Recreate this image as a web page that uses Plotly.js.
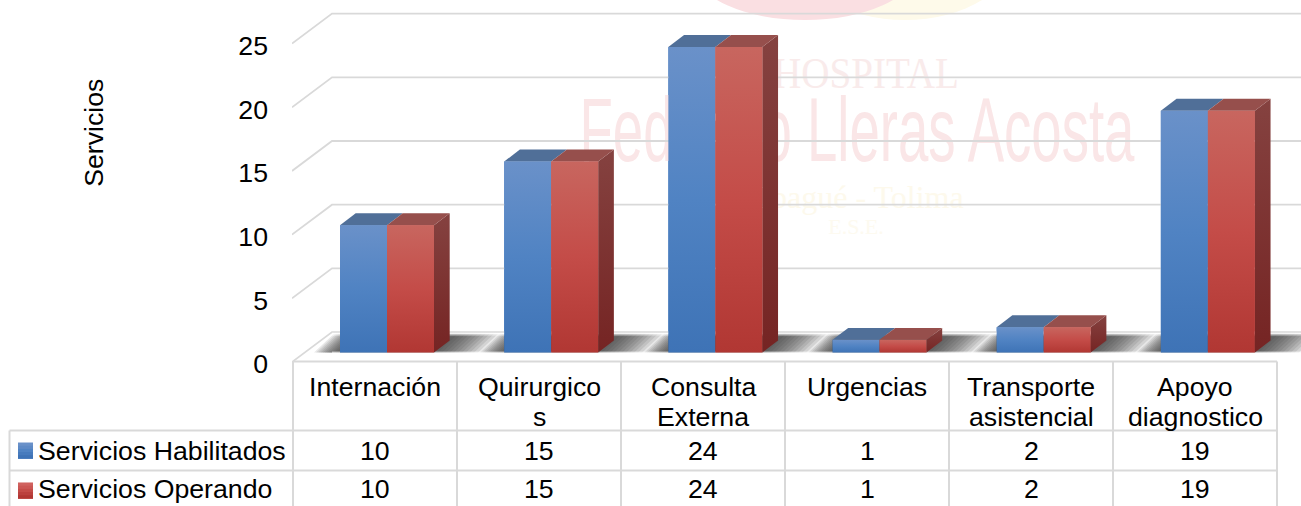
<!DOCTYPE html>
<html><head><meta charset="utf-8">
<script src="https://cdn.plot.ly/plotly-3.0.1.min.js"></script>
<style>html,body{margin:0;padding:0;background:#fff;overflow:hidden}</style>
</head><body><div id="chart" style="width:1301px;height:506px"></div>
<script>
const categories = ['Internación','Quirurgico<br>s','Consulta<br>Externa','Urgencias','Transporte<br>asistencial','Apoyo<br>diagnostico'];
const serviciosHabilitados = [10,15,24,1,2,19];
const serviciosOperando = [10,15,24,1,2,19];
const seriesNames = ['Servicios Habilitados','Servicios Operando'];
const yTicks = [0,5,10,15,20,25];
const yTitle = 'Servicios';

const FONT='"Liberation Sans", Arial, sans-serif', SERIF='"Liberation Serif", serif', NARROW='"Liberation Sans Narrow","Liberation Sans",sans-serif', FS=26.7;
const W=1301,H=506,L=292,ZERO=362.4,PXU=12.75,STEP=164.17,C0=387;
const xd=p=>(p-C0)/STEP, yd=p=>(ZERO-p)/PXU, xp=p=>(p-L)/(W-L), yp=p=>(ZERO-p)/ZERO;
const barW=47/STEP, depX=15.7/STEP, depY=12/PXU, lift=yd(353);
const backX=40/STEP, backY=30/PXU;
const BLUE=[[0,'#6A91C9'],[0.5,'#5083C3'],[1,'#3E73B6']], RED=[[0,'#C8665F'],[0.5,'#C44C48'],[1,'#B13733']], SIDE=[[0,'#854240'],[1,'#752423']];
const nh={hoverinfo:'skip',showlegend:false};
const poly=(x,y,extra)=>Object.assign({type:'scatter',mode:'lines',x,y,fill:'toself',line:{width:0}},nh,extra);
const traces=[];

// watermark text (behind everything)
const wm=[['HOSPITAL',866,77,45,SERIF,'#F9EBEB'],['Federico Lleras Acosta',857,138,91,NARROW,'#FAE6E7'],['Ibagué - Tolima',862,200,32,SERIF,'#FDF9EC'],['E.S.E.',856,229,22,SERIF,'#FDFAF0']];
wm.forEach(w=>traces.push(Object.assign({type:'scatter',mode:'text',x:[xd(w[1])],y:[yd(w[2])],text:[w[0]],textposition:'middle center',textfont:{family:w[4],size:w[3],color:w[5]},cliponaxis:false},nh)));

// gridlines: side wall + back wall
const gx=[],gy=[];
yTicks.forEach(v=>{gx.push(xd(L),xd(L)+backX,xd(W),null);gy.push(v,v+backY,v+backY,null);});
traces.push(Object.assign({type:'scatter',mode:'lines',x:gx,y:gy,line:{color:'#D9D9D9',width:1.8},cliponaxis:false},nh));

// floor shadows: nested bands, darkest next to each bar
const N=12, levels=[];
for(let k=0;k<N;k++) levels.push({x:[],y:[]});
const sy0=lift, sy1=yd(334), slant=20/STEP;
categories.forEach((c,i)=>{
  const lft=i-barW, rgt=i+barW;
  for(let k=0;k<N;k++){
    const f=(N-k)/N, rw=48/STEP*f, lw=26/STEP*f;
    const a0=lft-lw, a1=rgt+rw;
    levels[k].x.push(a0,a1,a1+slant,a0+slant,null); levels[k].y.push(sy0,sy0,sy1,sy1,null);
  }
});
levels.forEach(l=>traces.push(poly(l.x,l.y,{fillcolor:'rgba(50,50,50,0.115)'})));
// soft edges of the shadow band
const fadeBox=(p0,p1,c0,c1)=>poly([xd(L+40),xd(W),xd(W),xd(L+40)],[yd(p0),yd(p0),yd(p1),yd(p1)],{fillgradient:{type:'vertical',start:yd(p0),stop:yd(p1),colorscale:[[0,c0],[1,c1]]}});
traces.push(fadeBox(333.2,337,'rgba(255,255,255,1)','rgba(255,255,255,0)'));
traces.push(fadeBox(351,354,'rgba(255,255,255,0)','rgba(255,255,255,0.9)'));

// real bars
traces.push({type:'bar',name:seriesNames[0],x:categories.map((c,i)=>i),y:serviciosHabilitados,base:lift,width:barW,offset:-barW,marker:{color:'#5083C3',line:{width:0}},showlegend:false,hoverinfo:'skip'});
traces.push({type:'bar',name:seriesNames[1],x:categories.map((c,i)=>i),y:serviciosOperando,base:lift,width:barW,offset:0,marker:{color:'#C44C48',line:{width:0}},showlegend:false,hoverinfo:'skip'});

// 3D faces
categories.forEach((c,i)=>{
  const tb=lift+serviciosHabilitados[i], tr=lift+serviciosOperando[i];
  const a=i-barW,b=i,d=i+barW;
  traces.push(poly([d,d,d+depX,d+depX,d],[lift,tr,tr+depY,lift+depY,lift],{fillgradient:{type:'vertical',start:tr+depY,stop:lift,colorscale:SIDE}}));
  traces.push(poly([a,b,b+depX,a+depX,a],[tb,tb,tb+depY,tb+depY,tb],{fillcolor:'#506F98'}));
  traces.push(poly([b,d,d+depX,b+depX,b],[tr,tr,tr+depY,tr+depY,tr],{fillcolor:'#964F4C'}));
  traces.push(poly([a,b,b,a,a],[lift,lift,tb,tb,lift],{fillgradient:{type:'vertical',start:tb,stop:lift,colorscale:BLUE}}));
  traces.push(poly([b,d,d,b,b],[lift,lift,tr,tr,lift],{fillgradient:{type:'vertical',start:tr,stop:lift,colorscale:RED}}));
});

// table
const colX=i=>293+164*i;
const tblTop=362, rowY=[431,471,511], tblLeft=9.5;
const line=(x0,y0,x1,y1)=>({type:'line',xref:'paper',yref:'paper',x0:xp(x0),y0:yp(y0),x1:xp(x1),y1:yp(y1),line:{color:'#D9D9D9',width:2},layer:'above'});
const shapes=[
 {type:'circle',xref:'paper',yref:'paper',x0:xp(795),x1:xp(1015),y0:yp(-120),y1:yp(20),fillcolor:'#FEFAEA',line:{width:0},layer:'below'},
 {type:'circle',xref:'paper',yref:'paper',x0:xp(695),x1:xp(915),y0:yp(-80),y1:yp(20),fillcolor:'#FADFE2',line:{width:0},layer:'below'}
];
shapes.push(line(colX(0),tblTop,colX(6),tblTop));
rowY.forEach(y=>shapes.push(line(tblLeft,y,colX(6),y)));
for(let i=0;i<=6;i++) shapes.push(line(colX(i),tblTop,colX(i),511));
shapes.push(line(tblLeft,431,tblLeft,511));
// legend keys: shades painted top to bottom, each overlapping the rest
[[443,['#6A91C9','#5E8AC6','#5083C3','#477BBD','#3E73B6']],[483,['#D0625F','#CB5754','#C44C48','#BB413E','#B13733']]].forEach(k=>{
  k[1].forEach((col,j)=>{
    shapes.push({type:'rect',xref:'paper',yref:'paper',x0:xp(18),x1:xp(33),y0:yp(k[0]+j*16/5),y1:yp(k[0]+16),fillcolor:col,line:{width:0},layer:'above'});
  });
});
const ann=[];
const txt=(t,px,py,anchor)=>ann.push({xref:'paper',yref:'paper',x:xp(px),y:yp(py),text:t,showarrow:false,xanchor:anchor||'center',yanchor:'middle',font:{family:FONT,size:FS,color:'#000'},borderpad:0,borderwidth:0});
categories.forEach((c,i)=>{
  const cx=colX(i)+82;
  c.split('<br>').forEach((t,j)=>txt(t,cx,387+30*j));
  txt(String(serviciosHabilitados[i]),cx,451);
  txt(String(serviciosOperando[i]),cx,490);
});
txt(seriesNames[0],38,451,'left');
txt(seriesNames[1],38,490,'left');
txt(yTitle,94,133);
ann[ann.length-1].textangle=-90;

const layout={
  width:W,height:H,paper_bgcolor:'#fff',plot_bgcolor:'rgba(0,0,0,0)',
  margin:{l:L,r:0,t:0,b:H-ZERO,pad:0},showlegend:false,barmode:'overlay',
  font:{family:FONT,size:FS,color:'#000'},
  xaxis:{type:'linear',range:[xd(L),xd(W)],showgrid:false,zeroline:false,showline:false,showticklabels:false,ticks:'',fixedrange:true},
  yaxis:{type:'linear',range:[0,yd(0)],tickvals:yTicks,ticktext:yTicks.map(String),showgrid:false,zeroline:false,showline:false,ticks:'',ticklabelstandoff:23,ticklabelshift:2,tickfont:{family:FONT,size:FS,color:'#000'},fixedrange:true,automargin:false},
  shapes,annotations:ann
};
Plotly.newPlot('chart',traces,layout,{displayModeBar:false,staticPlot:true}).then(gd=>{
  const squeeze={'Federico Lleras Acosta':555,'HOSPITAL':186};
  gd.querySelectorAll('.textpoint text').forEach(t=>{
    const target=squeeze[t.textContent];
    if(!target) return;
    const cx=parseFloat(t.getAttribute('x'))||0, sx=target/t.getComputedTextLength();
    t.setAttribute('transform','translate('+cx+',0) scale('+sx+',1) translate('+(-cx)+',0)');
  });
});
</script></body></html>
